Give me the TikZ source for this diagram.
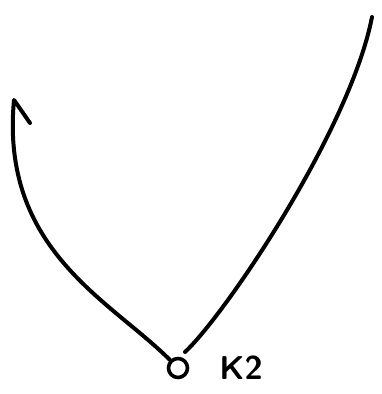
\documentclass[tikz,border=0pt]{standalone}
\usetikzlibrary{positioning}

\begin{document}
\begin{tikzpicture}[x=1pt,y=-1pt,line width=4pt,line cap=round,line join=round]
    \useasboundingbox (0,0) rectangle (382,394);
    \node[draw,circle,minimum size=19pt,inner sep=0pt,line width=3.6pt] (k2) at (178,368) {};
    \node[right=28pt of k2,inner sep=0pt,font=\fontsize{33}{33}\selectfont\sffamily\bfseries] (lab) {K2};
    \coordinate (tip) at (14,100);
    \coordinate (barb) at (30,123);
    \coordinate (rs) at (185,352);
    \coordinate (re) at (372,17);
    % curve to the left, ending in a one-sided arrow
    \draw (k2.north west) .. controls (110,300) and (0,250) .. (tip) -- (barb);
    % curve to the right
    \draw (rs) .. controls (225,315) and (350,130) .. (re);
\end{tikzpicture}
\end{document}
